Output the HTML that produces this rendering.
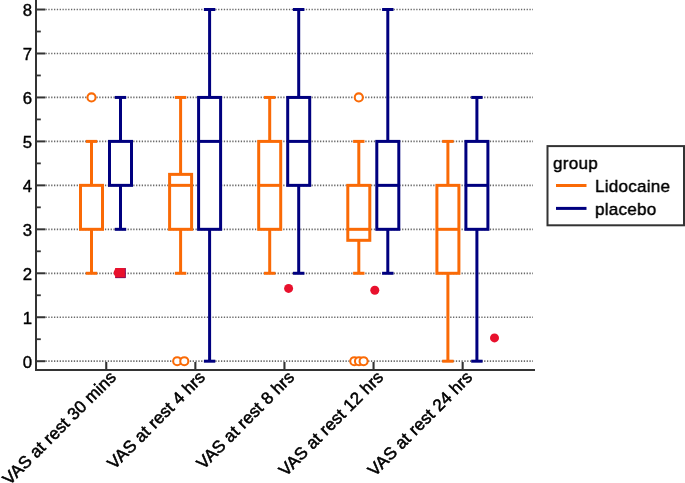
<!DOCTYPE html>
<html><head><meta charset="utf-8"><title>Box plot</title>
<style>html,body{margin:0;padding:0;background:#fff;overflow:hidden}body{width:685px;height:483px;font-family:"Liberation Sans",sans-serif}</style></head>
<body>
<svg width="685" height="483" viewBox="0 0 685 483" style="display:block">
<rect width="685" height="483" fill="#fff"/>
<line x1="45.5" y1="361.2" x2="533" y2="361.2" stroke="#6a6a6a" stroke-width="1.7" stroke-dasharray="1.3 1.53"/>
<line x1="45.5" y1="317.24" x2="533" y2="317.24" stroke="#6a6a6a" stroke-width="1.7" stroke-dasharray="1.3 1.53"/>
<line x1="45.5" y1="273.28" x2="533" y2="273.28" stroke="#6a6a6a" stroke-width="1.7" stroke-dasharray="1.3 1.53"/>
<line x1="45.5" y1="229.32" x2="533" y2="229.32" stroke="#6a6a6a" stroke-width="1.7" stroke-dasharray="1.3 1.53"/>
<line x1="45.5" y1="185.35999999999999" x2="533" y2="185.35999999999999" stroke="#6a6a6a" stroke-width="1.7" stroke-dasharray="1.3 1.53"/>
<line x1="45.5" y1="141.39999999999998" x2="533" y2="141.39999999999998" stroke="#6a6a6a" stroke-width="1.7" stroke-dasharray="1.3 1.53"/>
<line x1="45.5" y1="97.44" x2="533" y2="97.44" stroke="#6a6a6a" stroke-width="1.7" stroke-dasharray="1.3 1.53"/>
<line x1="45.5" y1="53.47999999999996" x2="533" y2="53.47999999999996" stroke="#6a6a6a" stroke-width="1.7" stroke-dasharray="1.3 1.53"/>
<line x1="45.5" y1="9.519999999999982" x2="533" y2="9.519999999999982" stroke="#6a6a6a" stroke-width="1.7" stroke-dasharray="1.3 1.53"/>
<line x1="91.5" y1="141.39999999999998" x2="91.5" y2="273.28" stroke="#FA6A06" stroke-width="3"/>
<line x1="85.8" y1="273.28" x2="97.2" y2="273.28" stroke="#FA6A06" stroke-width="3"/>
<line x1="85.8" y1="141.39999999999998" x2="97.2" y2="141.39999999999998" stroke="#FA6A06" stroke-width="3"/>
<rect x="80.5" y="185.35999999999999" width="22" height="43.96000000000001" fill="#fff" stroke="#FA6A06" stroke-width="3"/>
<circle cx="91.5" cy="97.44" r="4.05" fill="#fff" stroke="#FA6A06" stroke-width="2.05"/>
<line x1="120.5" y1="97.44" x2="120.5" y2="229.32" stroke="#00007F" stroke-width="3"/>
<line x1="114.8" y1="229.32" x2="126.2" y2="229.32" stroke="#00007F" stroke-width="3"/>
<line x1="114.8" y1="97.44" x2="126.2" y2="97.44" stroke="#00007F" stroke-width="3"/>
<rect x="109.5" y="141.39999999999998" width="22" height="43.96000000000001" fill="#fff" stroke="#00007F" stroke-width="3"/>
<line x1="180.6" y1="97.44" x2="180.6" y2="273.28" stroke="#FA6A06" stroke-width="3"/>
<line x1="174.9" y1="273.28" x2="186.29999999999998" y2="273.28" stroke="#FA6A06" stroke-width="3"/>
<line x1="174.9" y1="97.44" x2="186.29999999999998" y2="97.44" stroke="#FA6A06" stroke-width="3"/>
<rect x="169.6" y="174.36999999999998" width="22" height="54.95000000000002" fill="#fff" stroke="#FA6A06" stroke-width="3"/>
<line x1="169.6" y1="185.35999999999999" x2="191.6" y2="185.35999999999999" stroke="#FA6A06" stroke-width="3"/>
<circle cx="177.2" cy="361.2" r="4.05" fill="#fff" stroke="#FA6A06" stroke-width="2.05"/>
<circle cx="184.29999999999998" cy="361.2" r="4.05" fill="#fff" stroke="#FA6A06" stroke-width="2.05"/>
<line x1="209.6" y1="9.519999999999982" x2="209.6" y2="361.2" stroke="#00007F" stroke-width="3"/>
<line x1="203.9" y1="361.2" x2="215.29999999999998" y2="361.2" stroke="#00007F" stroke-width="3"/>
<line x1="203.9" y1="9.519999999999982" x2="215.29999999999998" y2="9.519999999999982" stroke="#00007F" stroke-width="3"/>
<rect x="198.6" y="97.44" width="22" height="131.88" fill="#fff" stroke="#00007F" stroke-width="3"/>
<line x1="198.6" y1="141.39999999999998" x2="220.6" y2="141.39999999999998" stroke="#00007F" stroke-width="3"/>
<line x1="269.7" y1="97.44" x2="269.7" y2="273.28" stroke="#FA6A06" stroke-width="3"/>
<line x1="264.0" y1="273.28" x2="275.4" y2="273.28" stroke="#FA6A06" stroke-width="3"/>
<line x1="264.0" y1="97.44" x2="275.4" y2="97.44" stroke="#FA6A06" stroke-width="3"/>
<rect x="258.7" y="141.39999999999998" width="22" height="87.92000000000002" fill="#fff" stroke="#FA6A06" stroke-width="3"/>
<line x1="258.7" y1="185.35999999999999" x2="280.7" y2="185.35999999999999" stroke="#FA6A06" stroke-width="3"/>
<line x1="298.7" y1="9.519999999999982" x2="298.7" y2="273.28" stroke="#00007F" stroke-width="3"/>
<line x1="293.0" y1="273.28" x2="304.4" y2="273.28" stroke="#00007F" stroke-width="3"/>
<line x1="293.0" y1="9.519999999999982" x2="304.4" y2="9.519999999999982" stroke="#00007F" stroke-width="3"/>
<rect x="287.7" y="97.44" width="22" height="87.91999999999999" fill="#fff" stroke="#00007F" stroke-width="3"/>
<line x1="287.7" y1="141.39999999999998" x2="309.7" y2="141.39999999999998" stroke="#00007F" stroke-width="3"/>
<line x1="358.79999999999995" y1="141.39999999999998" x2="358.79999999999995" y2="273.28" stroke="#FA6A06" stroke-width="3"/>
<line x1="353.09999999999997" y1="273.28" x2="364.49999999999994" y2="273.28" stroke="#FA6A06" stroke-width="3"/>
<line x1="353.09999999999997" y1="141.39999999999998" x2="364.49999999999994" y2="141.39999999999998" stroke="#FA6A06" stroke-width="3"/>
<rect x="347.79999999999995" y="185.35999999999999" width="22" height="54.95000000000002" fill="#fff" stroke="#FA6A06" stroke-width="3"/>
<line x1="347.79999999999995" y1="229.32" x2="369.79999999999995" y2="229.32" stroke="#FA6A06" stroke-width="3"/>
<circle cx="358.79999999999995" cy="97.44" r="4.05" fill="#fff" stroke="#FA6A06" stroke-width="2.05"/>
<circle cx="354.29999999999995" cy="361.2" r="4.05" fill="#fff" stroke="#FA6A06" stroke-width="2.05"/>
<circle cx="358.99999999999994" cy="361.2" r="4.05" fill="#fff" stroke="#FA6A06" stroke-width="2.05"/>
<circle cx="363.59999999999997" cy="361.2" r="4.05" fill="#fff" stroke="#FA6A06" stroke-width="2.05"/>
<line x1="387.79999999999995" y1="9.519999999999982" x2="387.79999999999995" y2="273.28" stroke="#00007F" stroke-width="3"/>
<line x1="382.09999999999997" y1="273.28" x2="393.49999999999994" y2="273.28" stroke="#00007F" stroke-width="3"/>
<line x1="382.09999999999997" y1="9.519999999999982" x2="393.49999999999994" y2="9.519999999999982" stroke="#00007F" stroke-width="3"/>
<rect x="376.79999999999995" y="141.39999999999998" width="22" height="87.92000000000002" fill="#fff" stroke="#00007F" stroke-width="3"/>
<line x1="376.79999999999995" y1="185.35999999999999" x2="398.79999999999995" y2="185.35999999999999" stroke="#00007F" stroke-width="3"/>
<line x1="447.9" y1="141.39999999999998" x2="447.9" y2="361.2" stroke="#FA6A06" stroke-width="3"/>
<line x1="442.2" y1="361.2" x2="453.59999999999997" y2="361.2" stroke="#FA6A06" stroke-width="3"/>
<line x1="442.2" y1="141.39999999999998" x2="453.59999999999997" y2="141.39999999999998" stroke="#FA6A06" stroke-width="3"/>
<rect x="436.9" y="185.35999999999999" width="22" height="87.91999999999999" fill="#fff" stroke="#FA6A06" stroke-width="3"/>
<line x1="436.9" y1="229.32" x2="458.9" y2="229.32" stroke="#FA6A06" stroke-width="3"/>
<line x1="476.9" y1="97.44" x2="476.9" y2="361.2" stroke="#00007F" stroke-width="3"/>
<line x1="471.2" y1="361.2" x2="482.59999999999997" y2="361.2" stroke="#00007F" stroke-width="3"/>
<line x1="471.2" y1="97.44" x2="482.59999999999997" y2="97.44" stroke="#00007F" stroke-width="3"/>
<rect x="465.9" y="141.39999999999998" width="22" height="87.92000000000002" fill="#fff" stroke="#00007F" stroke-width="3"/>
<line x1="465.9" y1="185.35999999999999" x2="487.9" y2="185.35999999999999" stroke="#00007F" stroke-width="3"/>
<rect x="115.1" y="268" width="10.6" height="10" fill="#E8112D"/>
<path d="M125.4,268.2 V277.7 H115.3" fill="none" stroke="#5a1070" stroke-width="0.7"/>
<circle cx="118.2" cy="272.8" r="4.5" fill="#E8112D"/>
<circle cx="288.6" cy="288.4" r="4.5" fill="#E8112D"/>
<circle cx="374.8" cy="290.2" r="4.5" fill="#E8112D"/>
<circle cx="494.5" cy="337.9" r="4.5" fill="#E8112D"/>
<line x1="36" y1="0" x2="36" y2="371" stroke="#333333" stroke-width="2"/>
<line x1="35" y1="370" x2="535" y2="370" stroke="#333333" stroke-width="2"/>
<line x1="36" y1="361.2" x2="45.3" y2="361.2" stroke="#333333" stroke-width="2"/>
<line x1="36" y1="339.21999999999997" x2="40.8" y2="339.21999999999997" stroke="#333333" stroke-width="1.8"/>
<line x1="36" y1="317.24" x2="45.3" y2="317.24" stroke="#333333" stroke-width="2"/>
<line x1="36" y1="295.26" x2="40.8" y2="295.26" stroke="#333333" stroke-width="1.8"/>
<line x1="36" y1="273.28" x2="45.3" y2="273.28" stroke="#333333" stroke-width="2"/>
<line x1="36" y1="251.29999999999998" x2="40.8" y2="251.29999999999998" stroke="#333333" stroke-width="1.8"/>
<line x1="36" y1="229.32" x2="45.3" y2="229.32" stroke="#333333" stroke-width="2"/>
<line x1="36" y1="207.33999999999997" x2="40.8" y2="207.33999999999997" stroke="#333333" stroke-width="1.8"/>
<line x1="36" y1="185.35999999999999" x2="45.3" y2="185.35999999999999" stroke="#333333" stroke-width="2"/>
<line x1="36" y1="163.38" x2="40.8" y2="163.38" stroke="#333333" stroke-width="1.8"/>
<line x1="36" y1="141.39999999999998" x2="45.3" y2="141.39999999999998" stroke="#333333" stroke-width="2"/>
<line x1="36" y1="119.41999999999999" x2="40.8" y2="119.41999999999999" stroke="#333333" stroke-width="1.8"/>
<line x1="36" y1="97.44" x2="45.3" y2="97.44" stroke="#333333" stroke-width="2"/>
<line x1="36" y1="75.45999999999998" x2="40.8" y2="75.45999999999998" stroke="#333333" stroke-width="1.8"/>
<line x1="36" y1="53.47999999999996" x2="45.3" y2="53.47999999999996" stroke="#333333" stroke-width="2"/>
<line x1="36" y1="31.5" x2="40.8" y2="31.5" stroke="#333333" stroke-width="1.8"/>
<line x1="36" y1="9.519999999999982" x2="45.3" y2="9.519999999999982" stroke="#333333" stroke-width="2"/>
<line x1="106.25" y1="362" x2="106.25" y2="370" stroke="#333333" stroke-width="2.1"/>
<line x1="195.35" y1="362" x2="195.35" y2="370" stroke="#333333" stroke-width="2.1"/>
<line x1="284.45" y1="362" x2="284.45" y2="370" stroke="#333333" stroke-width="2.1"/>
<line x1="373.54999999999995" y1="362" x2="373.54999999999995" y2="370" stroke="#333333" stroke-width="2.1"/>
<line x1="462.65" y1="362" x2="462.65" y2="370" stroke="#333333" stroke-width="2.1"/>
<g font-family="Liberation Sans, sans-serif" font-size="16.8" fill="#000" stroke="#000" stroke-width="0.4" style="filter:grayscale(1)">
<text x="32" y="367.7" text-anchor="end">0</text>
<text x="32" y="323.74" text-anchor="end">1</text>
<text x="32" y="279.78" text-anchor="end">2</text>
<text x="32" y="235.82" text-anchor="end">3</text>
<text x="32" y="191.85999999999999" text-anchor="end">4</text>
<text x="32" y="147.89999999999998" text-anchor="end">5</text>
<text x="32" y="103.94" text-anchor="end">6</text>
<text x="32" y="59.97999999999996" text-anchor="end">7</text>
<text x="32" y="16.019999999999982" text-anchor="end">8</text>
<text transform="translate(117.1,378.2) rotate(-45)" text-anchor="end" font-size="17" letter-spacing="0.16" stroke-width="0.55">VAS at rest 30 mins</text>
<text transform="translate(206.2,378.2) rotate(-45)" text-anchor="end" font-size="17" letter-spacing="0.16" stroke-width="0.55">VAS at rest 4 hrs</text>
<text transform="translate(295.3,378.2) rotate(-45)" text-anchor="end" font-size="17" letter-spacing="0.16" stroke-width="0.55">VAS at rest 8 hrs</text>
<text transform="translate(384.4,378.2) rotate(-45)" text-anchor="end" font-size="17" letter-spacing="0.16" stroke-width="0.55">VAS at rest 12 hrs</text>
<text transform="translate(473.5,378.2) rotate(-45)" text-anchor="end" font-size="17" letter-spacing="0.16" stroke-width="0.55">VAS at rest 24 hrs</text>
<rect x="547.5" y="146.1" width="136.5" height="79.2" fill="#fff" stroke="#333333" stroke-width="2"/>
<text x="553" y="169.1" font-size="17" letter-spacing="0.3">group</text>
<text x="595" y="191.9" font-size="17" letter-spacing="0.27">Lidocaine</text>
<text x="595" y="215.2" font-size="17" letter-spacing="0.27">placebo</text>
</g>
<line x1="556" y1="185.5" x2="586.5" y2="185.5" stroke="#FA6A06" stroke-width="3"/>
<line x1="556" y1="208.4" x2="586.5" y2="208.4" stroke="#00007F" stroke-width="3"/>
</svg>
</body></html>
